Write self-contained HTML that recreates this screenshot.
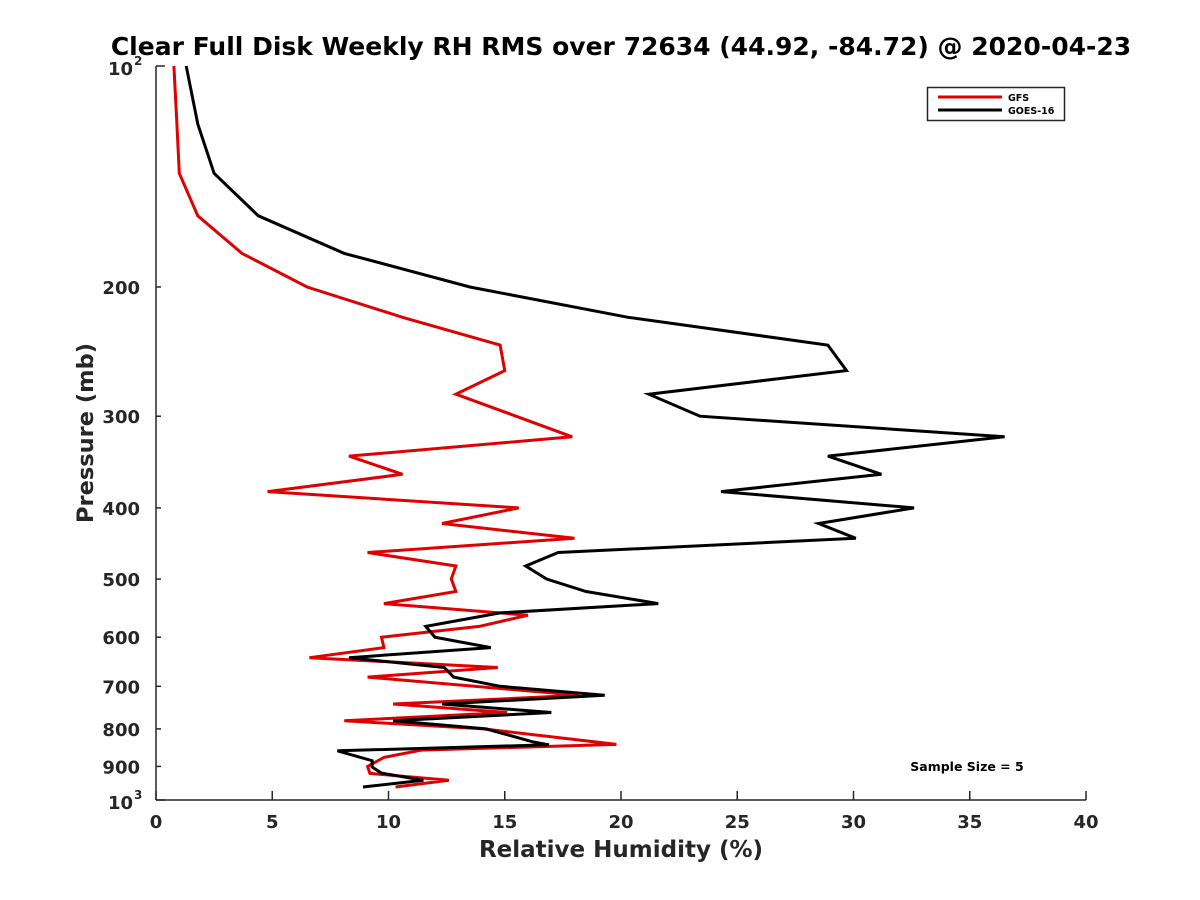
<!DOCTYPE html>
<html><head><meta charset="utf-8">
<style>
html,body{margin:0;padding:0;background:#fff;}
svg{display:block;font-family:"DejaVu Sans","Liberation Sans",sans-serif;}
</style></head>
<body>
<svg id="chart" width="1200" height="900" viewBox="0 0 1200 900">
<rect width="1200" height="900" fill="#fff"/>
<text x="621" y="55" text-anchor="middle" font-size="25" font-weight="bold" fill="#000">Clear Full Disk Weekly RH RMS over 72634 (44.92, -84.72) @ 2020-04-23</text>
<g id="axes"></g>
<g id="series"></g>
<text x="621" y="857" text-anchor="middle" font-size="23" font-weight="bold" fill="#262626">Relative Humidity (%)</text>
<text transform="translate(93,433) rotate(-90)" text-anchor="middle" font-size="22.5" font-weight="bold" fill="#262626">Pressure (mb)</text>
<g>
<rect x="927.5" y="87.5" width="137" height="33" fill="#fff" stroke="#262626" stroke-width="1.5"/>
<line x1="938" y1="97" x2="1002" y2="97" stroke="#e00000" stroke-width="3"/>
<text x="1008" y="101" font-size="9.5" font-weight="bold">GFS</text>
<line x1="938" y1="110" x2="1002" y2="110" stroke="#000" stroke-width="3"/>
<text x="1008" y="114" font-size="9.5" font-weight="bold">GOES-16</text>
</g>
<text x="967" y="771" text-anchor="middle" font-size="12.5" font-weight="bold">Sample Size = 5</text>
</svg>
<script>
const gfsPressure = [100,120,140,160,180,200,220,240,260,280,320,340,360,380,400,420,440,460,480,500,520,540,560,580,600,620,640,660,680,720,740,760,780,800,840,855,875,900,920,940,960];
const gfsValues   = [0.77,0.9,1.0,1.8,3.7,6.5,10.6,14.8,15.0,12.9,17.9,8.3,10.6,4.8,15.6,12.3,18.0,9.1,12.9,12.7,12.9,9.8,16.0,13.9,9.7,9.8,6.6,14.7,9.1,18.2,10.2,15.1,8.1,14.1,19.8,11.4,9.8,9.1,9.2,12.6,10.3];
const goesPressure = [100,120,140,160,180,200,220,240,260,280,300,320,340,360,380,400,420,440,460,480,500,520,540,556,580,600,620,640,660,680,700,720,740,760,780,800,833,841,857,884,902,919,940,960];
const goesValues   = [1.3,1.8,2.5,4.4,8.1,13.5,20.3,28.9,29.7,21.2,23.4,36.5,28.9,31.2,24.3,32.6,28.5,30.1,17.3,15.9,16.8,18.5,21.6,14.8,11.6,12.0,14.4,8.3,12.4,12.8,14.8,19.3,12.3,17.0,10.2,14.2,16.2,16.9,7.8,9.3,9.3,9.7,11.5,8.9];
const xTicks = [0,5,10,15,20,25,30,35,40];
const yTicks = [200,300,400,500,600,700,800,900];

const L=156,R=1086,T=66,B=800,XMAX=40;
function xs(v){return L+(v/XMAX)*(R-L);}
function ys(p){return T+(Math.log10(p)-2)*(B-T);}
const NS='http://www.w3.org/2000/svg';
function mk(tag,attrs,parent){const e=document.createElementNS(NS,tag);for(const k in attrs)e.setAttribute(k,attrs[k]);parent.appendChild(e);return e;}
const ax=document.getElementById('axes');
let a=mk('line',{x1:L,y1:T,x2:L,y2:B,stroke:'#262626','stroke-width':1.5},ax);


a=mk('line',{x1:L,y1:B,x2:R,y2:B,stroke:'#262626','stroke-width':1.5},ax);


xTicks.forEach(v=>{
  const x=xs(v);
  const t=mk('line',{x1:x,y1:B,x2:x,y2:B-9,stroke:'#262626','stroke-width':1.5},ax);
  
  
  const l=mk('text',{x:x,y:828,'text-anchor':'middle','font-size':18,'font-weight':'bold',fill:'#262626'},ax);
  l.textContent=v;
  
  
});
yTicks.forEach(p=>{
  const y=ys(p);
  const t=mk('line',{x1:L,y1:y,x2:L+5,y2:y,stroke:'#262626','stroke-width':1.5},ax);
  
  
  const l=mk('text',{x:140,y:y+7,'text-anchor':'end','font-size':18,'font-weight':'bold',fill:'#262626'},ax);
  l.textContent=p;
  
  
});
[[100,'2'],[1000,'3']].forEach(([p,e])=>{
  const y=ys(p);
  const t=mk('line',{x1:L,y1:y,x2:L+9,y2:y,stroke:'#262626','stroke-width':1.5},ax);
  
  
  const l=mk('text',{x:133,y:y+9,'text-anchor':'end','font-size':18,'font-weight':'bold',fill:'#262626'},ax);
  l.textContent='10';
  
  
  const s=mk('text',{x:134,y:y-1,'text-anchor':'start','font-size':12,'font-weight':'bold',fill:'#262626'},ax);
  s.textContent=e;
  
  
});
const sg=document.getElementById('series');
function line(pr,vals,color,name){
  const pts=pr.map((p,i)=>xs(vals[i]).toFixed(1)+','+ys(p).toFixed(1)).join(' ');
  const pl=mk('polyline',{points:pts,fill:'none',stroke:color,'stroke-width':3,'stroke-linejoin':'miter','stroke-miterlimit':4},sg);
  
  
}
line(gfsPressure,gfsValues,'#e00000','gfs-line');
line(goesPressure,goesValues,'#000000','goes16-line');
</script>
</body></html>
